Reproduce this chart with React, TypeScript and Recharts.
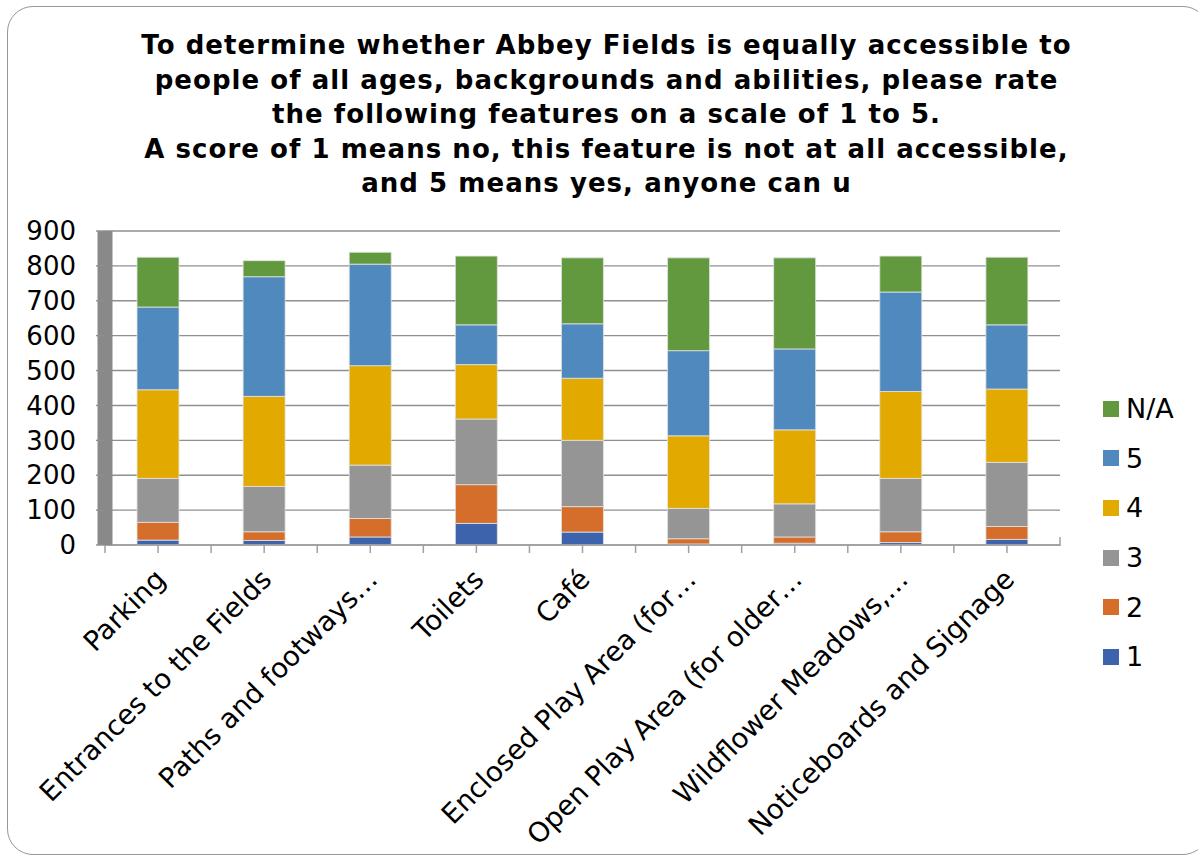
import React from "react";
import { Bar, BarChart, CartesianGrid, XAxis, YAxis } from "recharts";

const categories = [
  "Parking",
  "Entrances to the Fields",
  "Paths and footways…",
  "Toilets",
  "Café",
  "Enclosed Play Area (for…",
  "Open Play Area (for older…",
  "Wildflower Meadows,…",
  "Noticeboards and Signage",
];

const score1 = [14, 13, 23, 62, 37, 3, 5, 7, 16];
const score2 = [51, 25, 53, 111, 73, 15, 18, 31, 37];
const score3 = [126, 130, 153, 188, 190, 87, 95, 153, 184];
const score4 = [254, 258, 285, 156, 178, 208, 212, 249, 210];
const score5 = [237, 343, 291, 114, 156, 244, 232, 285, 184];
const scoreNA = [143, 46, 34, 197, 189, 266, 261, 103, 194];

const yTicks = [0, 100, 200, 300, 400, 500, 600, 700, 800, 900];

const titleLines = [
  "To determine whether Abbey Fields is equally accessible to",
  "people of all ages, backgrounds and abilities, please rate",
  "the following features on a scale of 1 to 5.",
  "A score of 1 means no, this feature is not at all accessible,",
  "and 5 means yes, anyone can u",
];

const series = [
  { key: "s1", name: "1", values: score1, color: "#3d63ad" },
  { key: "s2", name: "2", values: score2, color: "#d46e2a" },
  { key: "s3", name: "3", values: score3, color: "#959595" },
  { key: "s4", name: "4", values: score4, color: "#e2a900" },
  { key: "s5", name: "5", values: score5, color: "#4f89bd" },
  { key: "na", name: "N/A", values: scoreNA, color: "#63993e" },
];

const data = categories.map((name, i) => {
  const row: Record<string, string | number> = { name };
  series.forEach((s) => {
    row[s.key] = s.values[i];
  });
  return row;
});

const FONT = "'DejaVu Sans', Verdana, sans-serif";
const PLOT_LEFT = 105;
const PLOT_RIGHT = 1060;
const AXIS_Y = 545;
const BAND = (PLOT_RIGHT - PLOT_LEFT) / categories.length;

function CategoryTick(props: any) {
  const { x, payload, index } = props;
  const tx = x + 9;
  const ty = AXIS_Y + 36;
  return (
    <g>
      <line x1={x - BAND / 2} x2={x - BAND / 2} y1={AXIS_Y} y2={AXIS_Y + 8} stroke="#a0a0a0" strokeWidth={1.5} />
      {index === categories.length - 1 && (
        <line x1={x + BAND / 2} x2={x + BAND / 2} y1={AXIS_Y - 8} y2={AXIS_Y + 1} stroke="#a0a0a0" strokeWidth={1.5} />
      )}
      <text
        x={tx}
        y={ty}
        transform={`rotate(-45 ${tx} ${ty})`}
        textAnchor="end"
        fontSize={27.5}
        fontFamily={FONT}
        fill="#000"
      >
        {payload.value}
      </text>
    </g>
  );
}

export default function App() {
  const legendItems = [...series].reverse();
  return (
    <div style={{ position: "absolute", left: 0, top: 0, width: 1198, height: 859, overflow: "hidden", background: "#fff" }}>
      <div
        style={{
          position: "absolute",
          left: 7,
          top: 6,
          width: 1202,
          height: 849,
          border: "1.5px solid #979797",
          borderRadius: 26,
          boxSizing: "border-box",
        }}
      />
      <div
        style={{
          position: "absolute",
          left: 0,
          top: 28,
          width: 1213,
          textAlign: "center",
          fontFamily: FONT,
          fontWeight: "bold",
          fontSize: 26,
          letterSpacing: "1.05px",
          lineHeight: "34.5px",
          color: "#000",
        }}
      >
        {titleLines.map((line) => (
          <div key={line}>{line}</div>
        ))}
      </div>
      <div style={{ position: "absolute", left: 0, top: 0 }}>
        <BarChart
          width={1198}
          height={859}
          data={data}
          margin={{ top: 231, right: 1198 - PLOT_RIGHT, bottom: 859 - AXIS_Y - 30, left: 0 }}
          barSize={42}
        >
          <CartesianGrid vertical={false} stroke="#8f8f8f" strokeWidth={1.4} />
          <XAxis
            dataKey="name"
            height={30}
            interval={0}
            axisLine={{ stroke: "#a0a0a0", strokeWidth: 1.5 }}
            tickLine={{ stroke: "#a0a0a0", strokeWidth: 1.5 }}
            tickSize={8}
            tick={<CategoryTick />}
          />
          <YAxis
            width={PLOT_LEFT}
            domain={[0, 900]}
            ticks={yTicks}
            interval={0}
            axisLine={{ stroke: "#898989", strokeWidth: 15 }}
            tickLine={{ stroke: "#8f8f8f", strokeWidth: 1.4 }}
            tickSize={9}
            tickMargin={20}
            tick={{ fontSize: 26, fontFamily: FONT, fill: "#000" }}
          />
          {series.map((s) => (
            <Bar
              key={s.key}
              dataKey={s.key}
              name={s.name}
              stackId="a"
              fill={s.color}
              stroke="#e3e3e3"
              strokeWidth={0.8}
              isAnimationActive={false}
            />
          ))}
        </BarChart>
      </div>
      <div
        style={{
          position: "absolute",
          left: 1103,
          top: 384,
          fontFamily: FONT,
          fontSize: 27,
          color: "#000",
        }}
      >
        {legendItems.map((s) => (
          <div key={s.key} style={{ display: "flex", alignItems: "center", height: 49.6 }}>
            <span style={{ width: 16, height: 16, background: s.color, marginRight: 7 }} />
            <span>{s.name}</span>
          </div>
        ))}
      </div>
    </div>
  );
}
